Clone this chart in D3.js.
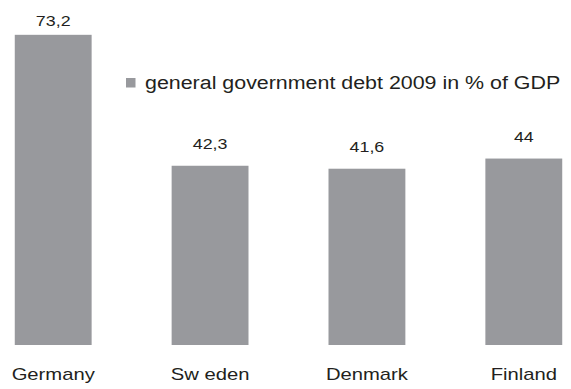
<!DOCTYPE html>
<html>
<head>
<meta charset="utf-8">
<script src="https://cdn.jsdelivr.net/npm/d3@7"></script>
<style>
  html, body { margin: 0; padding: 0; background: #fff; }
  svg { display: block; }
  text { font-family: "Liberation Sans", Arial, sans-serif; fill: #231f20; }
</style>
</head>
<body>
<script>
// General government debt 2009, % of GDP
const countries = ["Germany", "Sw eden", "Denmark", "Finland"];
const debt = [73.2, 42.3, 41.6, 44];
const valueLabels = ["73,2", "42,3", "41,6", "44"];
const legendLabel = "general government debt 2009 in % of GDP";

const W = 571, H = 389;
const barColor = "#98999d";
const stretch = 1.19; // glyphs are drawn slightly wide

const svg = d3.select("body").append("svg")
  .attr("width", W).attr("height", H);

const x = d3.scaleBand()
  .domain(countries)
  .range([3, 574])
  .paddingInner(0.51)
  .paddingOuter(0.075);

const y = d3.scaleLinear()
  .domain([0, 80])
  .range([345, 6]);

const rows = countries.map((c, i) => ({ c, v: debt[i], label: valueLabels[i] }));

// bars
svg.append("g").selectAll("rect")
  .data(rows)
  .join("rect")
  .attr("x", d => x(d.c))
  .attr("y", d => y(d.v))
  .attr("width", x.bandwidth())
  .attr("height", d => y(0) - y(d.v))
  .attr("fill", barColor);

// helper: horizontally widened text anchored at (px, py)
function wideText(g, px, py, str, size, anchor) {
  g.append("g")
    .attr("transform", `translate(${px},${py}) scale(${stretch},1)`)
    .append("text")
    .attr("text-anchor", anchor)
    .attr("font-size", size)
    .text(str);
}

// value labels above bars
const vl = svg.append("g");
rows.forEach(d => {
  const cx = x(d.c) + x.bandwidth() / 2;
  const by = Math.max(26, y(d.v) - 17);
  wideText(vl, cx, by, d.label, 15, "middle");
});

// category labels along the bottom
const cl = svg.append("g");
rows.forEach(d => {
  const cx = x(d.c) + x.bandwidth() / 2;
  wideText(cl, cx, 380, d.c, 17, "middle");
});

// legend
const lg = svg.append("g");
lg.append("rect")
  .attr("x", 126).attr("y", 78)
  .attr("width", 9.5).attr("height", 9.5)
  .attr("fill", barColor);
wideText(lg, 145, 88.5, legendLabel, 18, "start");
</script>
</body>
</html>
